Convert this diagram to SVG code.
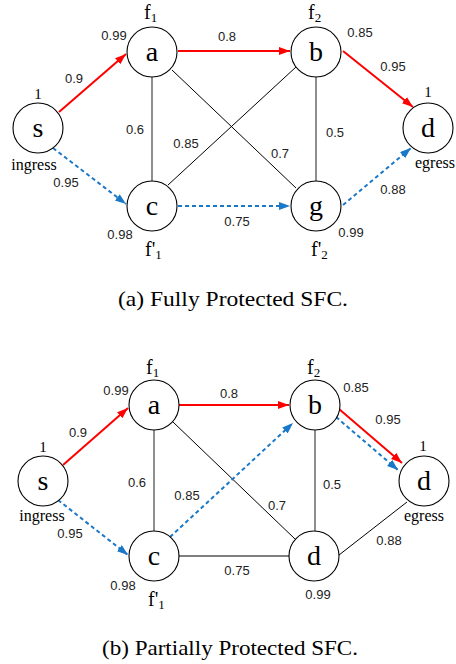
<svg xmlns="http://www.w3.org/2000/svg" width="456" height="664" viewBox="0 0 456 664">
<style>
.node circle{fill:#fff;stroke:#000;stroke-width:1.1}
.nl{font-family:"Liberation Serif",serif;font-size:28px;text-anchor:middle;fill:#000}
.f{font-family:"Liberation Serif",serif;font-size:20px;fill:#000}
.sub{font-size:13px}
.w{font-family:"Liberation Sans",Arial,sans-serif;font-size:13px;text-anchor:middle;fill:#222}
.t{font-family:"Liberation Serif",serif;font-size:16px;text-anchor:middle;fill:#000}
.cap{font-family:"Liberation Serif",serif;font-size:21px;text-anchor:middle;fill:#000}
.red{stroke:#f00;stroke-width:2;fill:none;marker-end:url(#ar)}
.blue{stroke:#1a78c8;stroke-width:2;stroke-dasharray:4 3;fill:none;marker-end:url(#ab)}
.bluen{stroke:#1a78c8;stroke-width:2;stroke-dasharray:4 3;fill:none}
.blk{stroke:#000;stroke-width:1;fill:none}
.gry{stroke:#444;stroke-width:1.2;fill:none}
</style>
<defs>
<marker id="ar" markerUnits="userSpaceOnUse" markerWidth="12" markerHeight="10" refX="11" refY="4" orient="auto"><path d="M0,0 L11,4 L0,8 z" fill="#f00"/></marker>
<marker id="ab" markerUnits="userSpaceOnUse" markerWidth="12" markerHeight="10" refX="11" refY="4" orient="auto"><path d="M0,0 L11,4 L0,8 z" fill="#1a78c8"/></marker>
</defs>

<!-- (a) connectors -->
<g id="connectors-a">
<line class="gry" x1="152" y1="77" x2="152" y2="181"/>
<line class="blk" x1="172" y1="70" x2="296" y2="188"/>
<line class="blk" x1="168" y1="185" x2="296" y2="67"/>
<line class="gry" x1="316" y1="77" x2="316" y2="181"/>
<line class="red" x1="59" y1="112" x2="126" y2="54"/>
<line class="red" x1="178" y1="51" x2="290" y2="51"/>
<line class="red" x1="343" y1="51" x2="413" y2="107"/>
<line class="blue" x1="53" y1="148" x2="126" y2="204"/>
<line class="blue" x1="178" y1="206" x2="290" y2="206"/>
<line class="blue" x1="343" y1="205" x2="411" y2="148"/>
</g>

<!-- (a) nodes -->
<g id="a-s" class="node"><circle cx="38" cy="128" r="25"/><text class="nl" x="38" y="137">s</text></g>
<g id="a-a" class="node"><circle cx="152" cy="52" r="25"/><text class="nl" x="152" y="61">a</text></g>
<g id="a-b" class="node"><circle cx="316" cy="52" r="25"/><text class="nl" x="316" y="61">b</text></g>
<g id="a-c" class="node"><circle cx="152" cy="206" r="25"/><text class="nl" x="152" y="215">c</text></g>
<g id="a-g" class="node"><circle cx="316" cy="206" r="25"/><text class="nl" x="316" y="215">g</text></g>
<g id="a-d" class="node"><circle cx="428" cy="128" r="25"/><text class="nl" x="428" y="137">d</text></g>

<!-- (a) labels -->
<g id="labels-a">
<text class="f" x="144" y="19">f<tspan class="sub" dy="3">1</tspan></text>
<text class="f" x="308" y="19">f<tspan class="sub" dy="3">2</tspan></text>
<text class="f" x="145" y="256">f'<tspan class="sub" dy="3">1</tspan></text>
<text class="f" x="311" y="256">f'<tspan class="sub" dy="3">2</tspan></text>
<text class="w" x="114" y="40">0.99</text>
<text class="t" x="38" y="99" style="font-size:15px">1</text>
<text class="w" x="74" y="83">0.9</text>
<text class="t" x="34" y="170">ingress</text>
<text class="w" x="66" y="187">0.95</text>
<text class="w" x="135" y="134">0.6</text>
<text class="w" x="186" y="148">0.85</text>
<text class="w" x="120" y="239">0.98</text>
<text class="w" x="227" y="41">0.8</text>
<text class="w" x="360" y="37">0.85</text>
<text class="w" x="393" y="71">0.95</text>
<text class="t" x="428" y="97" style="font-size:15px">1</text>
<text class="w" x="335" y="137">0.5</text>
<text class="w" x="280" y="158">0.7</text>
<text class="t" x="415" y="168" style="text-anchor:start">egress</text>
<text class="w" x="393" y="194">0.88</text>
<text class="w" x="237" y="226">0.75</text>
<text class="w" x="351" y="237">0.99</text>
<text class="cap" x="233" y="306" textLength="230" lengthAdjust="spacingAndGlyphs">(a) Fully Protected SFC.</text>
</g>

<!-- (b) connectors -->
<g id="connectors-b">
<line class="gry" x1="154" y1="430" x2="154" y2="531"/>
<line class="blk" x1="173" y1="422" x2="295" y2="539"/>
<line class="gry" x1="315" y1="430" x2="315" y2="531"/>
<line class="blk" x1="179" y1="556" x2="289" y2="556"/>
<line class="blk" x1="339" y1="555" x2="407" y2="502"/>
<line class="red" x1="63" y1="465" x2="128" y2="408"/>
<line class="red" x1="179" y1="405" x2="289" y2="405"/>
<line class="red" x1="339" y1="409" x2="402" y2="463"/>
<line class="blue" x1="336" y1="417" x2="398" y2="470"/>
<line class="blue" x1="58" y1="500" x2="128" y2="555"/>
<line class="blue" x1="170" y1="537" x2="293" y2="423"/>
</g>

<!-- (b) nodes -->
<g id="b-s" class="node"><circle cx="43" cy="481" r="25"/><text class="nl" x="43" y="490">s</text></g>
<g id="b-a" class="node"><circle cx="154" cy="405" r="25"/><text class="nl" x="154" y="414">a</text></g>
<g id="b-b" class="node"><circle cx="315" cy="405" r="25"/><text class="nl" x="315" y="414">b</text></g>
<g id="b-c" class="node"><circle cx="154" cy="556" r="25"/><text class="nl" x="154" y="565">c</text></g>
<g id="b-d2" class="node"><circle cx="314" cy="556" r="25"/><text class="nl" x="314" y="565">d</text></g>
<g id="b-d" class="node"><circle cx="424" cy="481" r="25"/><text class="nl" x="424" y="490">d</text></g>

<!-- (b) labels -->
<g id="labels-b">
<text class="f" x="146" y="374">f<tspan class="sub" dy="3">1</tspan></text>
<text class="f" x="307" y="374">f<tspan class="sub" dy="3">2</tspan></text>
<text class="f" x="148" y="606">f'<tspan class="sub" dy="3">1</tspan></text>
<text class="w" x="116" y="395">0.99</text>
<text class="w" x="229" y="398">0.8</text>
<text class="w" x="78" y="437">0.9</text>
<text class="t" x="43" y="452" style="font-size:15px">1</text>
<text class="w" x="137" y="487">0.6</text>
<text class="w" x="187" y="500">0.85</text>
<text class="t" x="42" y="521">ingress</text>
<text class="w" x="70" y="538">0.95</text>
<text class="w" x="123" y="590">0.98</text>
<text class="w" x="237" y="575">0.75</text>
<text class="w" x="318" y="599">0.99</text>
<text class="w" x="277" y="510">0.7</text>
<text class="t" x="424" y="521">egress</text>
<text class="w" x="389" y="545">0.88</text>
<text class="w" x="356" y="392">0.85</text>
<text class="w" x="388" y="424">0.95</text>
<text class="t" x="423" y="451" style="font-size:15px">1</text>
<text class="w" x="332" y="489">0.5</text>
<text class="cap" x="230" y="655" textLength="256" lengthAdjust="spacingAndGlyphs">(b) Partially Protected SFC.</text>
</g>
</svg>
